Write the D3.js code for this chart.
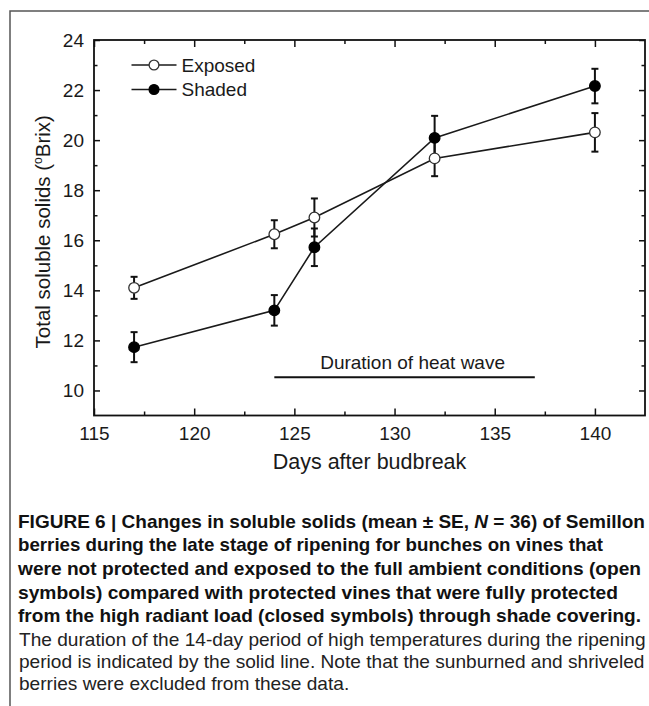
<!DOCTYPE html>
<html>
<head>
<meta charset="utf-8">
<script src="https://cdn.jsdelivr.net/npm/d3@7"></script>
<style>
  html, body { margin: 0; padding: 0; background: #fff; }
  svg { display: block; }
</style>
</head>
<body>
<svg id="fig" width="649" height="706"></svg>
<script>
// Sampling days (days after budbreak)
const days = [117, 124, 126, 132, 140];
// Total soluble solids (°Brix), mean and standard error
const exposedMean = [14.1, 16.24, 16.91, 19.27, 20.31];
const exposedSE   = [0.44, 0.56, 0.76, 0.71, 0.77];
const shadedMean  = [11.73, 13.2, 15.72, 20.09, 22.16];
const shadedSE    = [0.6, 0.61, 0.75, 0.88, 0.69];
// Heat wave period (start day, end day) and the level the bar is drawn at
const heatWaveDays = [124, 137];
const heatWaveLevel = [10.53];
// Axis ticks
const xTicks = [115, 120, 125, 130, 135, 140];
const xMinorTicks = [117.5, 122.5, 127.5, 132.5, 137.5];
const yTicks = [10, 12, 14, 16, 18, 20, 22, 24];
const yMinorTicks = [11, 13, 15, 17, 19, 21, 23];

const captionBold = [
  "FIGURE 6 | Changes in soluble solids (mean \u00B1 SE, N = 36) of Semillon",
  "berries during the late stage of ripening for bunches on vines that",
  "were not protected and exposed to the full ambient conditions (open",
  "symbols) compared with protected vines that were fully protected",
  "from the high radiant load (closed symbols) through shade covering."
];
const captionPlain = [
  "The duration of the 14-day period of high temperatures during the ripening",
  "period is indicated by the solid line. Note that the sunburned and shriveled",
  "berries were excluded from these data."
];

const svg = d3.select("#fig");
const FONT = '"Liberation Sans", Arial, Helvetica, sans-serif';

// Outer figure frame (top and left rules)
svg.append("path")
  .attr("d", "M10,706 V11 H649")
  .attr("fill", "none").attr("stroke", "#555").attr("stroke-width", 1.5);

const plot = { left: 94, right: 645, top: 40, bottom: 415.5 };
const x = d3.scaleLinear().domain([115, 142.5]).range([plot.left, plot.right]);
const y = d3.scaleLinear().domain([9, 24]).range([plot.bottom, plot.top]);

const g = svg.append("g");

function styleAxis(sel, size) {
  sel.select(".domain").remove();
  sel.selectAll(".tick line").attr("stroke", "#111").attr("stroke-width", 1.5);
  sel.selectAll(".tick text").attr("font-size", size).attr("font-family", FONT).attr("fill", "#1a1a1a");
}

// Bottom axis: major ticks with labels, minor ticks without
g.append("g").attr("transform", `translate(0,${plot.bottom})`)
  .call(d3.axisBottom(x).tickValues(xTicks).tickSize(-7).tickPadding(11).tickFormat(d3.format("d")))
  .call(s => styleAxis(s, 19));
g.append("g").attr("transform", `translate(0,${plot.bottom})`)
  .call(d3.axisBottom(x).tickValues(xMinorTicks).tickSize(-4).tickFormat(""))
  .call(s => styleAxis(s, 19));
// Top axis (ticks only)
g.append("g").attr("transform", `translate(0,${plot.top})`)
  .call(d3.axisTop(x).tickValues(xTicks).tickSize(-7).tickFormat(""))
  .call(s => styleAxis(s, 19));
g.append("g").attr("transform", `translate(0,${plot.top})`)
  .call(d3.axisTop(x).tickValues(xMinorTicks).tickSize(-4).tickFormat(""))
  .call(s => styleAxis(s, 19));
// Left axis
g.append("g").attr("transform", `translate(${plot.left},0)`)
  .call(d3.axisLeft(y).tickValues(yTicks).tickSize(-6).tickPadding(10).tickFormat(d3.format("d")))
  .call(s => styleAxis(s, 19));
g.append("g").attr("transform", `translate(${plot.left},0)`)
  .call(d3.axisLeft(y).tickValues(yMinorTicks).tickSize(-3.5).tickFormat(""))
  .call(s => styleAxis(s, 19));
// Right axis (ticks only)
g.append("g").attr("transform", `translate(${plot.right},0)`)
  .call(d3.axisRight(y).tickValues(yTicks).tickSize(-6).tickFormat(""))
  .call(s => styleAxis(s, 19));
g.append("g").attr("transform", `translate(${plot.right},0)`)
  .call(d3.axisRight(y).tickValues(yMinorTicks).tickSize(-3.5).tickFormat(""))
  .call(s => styleAxis(s, 19));

// Plot frame
g.append("rect")
  .attr("x", plot.left).attr("y", plot.top)
  .attr("width", plot.right - plot.left).attr("height", plot.bottom - plot.top)
  .attr("fill", "none").attr("stroke", "#111").attr("stroke-width", 1.8);

// Axis titles
g.append("text")
  .attr("x", (plot.left + plot.right) / 2).attr("y", 469)
  .attr("text-anchor", "middle").attr("font-family", FONT).attr("font-size", 21.5)
  .attr("fill", "#1a1a1a").text("Days after budbreak");

const yTitle = g.append("text")
  .attr("transform", `translate(50,${(plot.top + plot.bottom) / 2 + 4}) rotate(-90)`)
  .attr("text-anchor", "middle").attr("font-family", FONT).attr("font-size", 20.5)
  .attr("fill", "#1a1a1a");
yTitle.append("tspan").text("Total soluble solids (");
yTitle.append("tspan").attr("font-size", 12).attr("dy", -8).text("o");
yTitle.append("tspan").attr("dy", 8).text("Brix)");

// Heat wave duration bar and label
g.append("line")
  .attr("x1", x(heatWaveDays[0])).attr("x2", x(heatWaveDays[1]))
  .attr("y1", y(heatWaveLevel[0])).attr("y2", y(heatWaveLevel[0]))
  .attr("stroke", "#111").attr("stroke-width", 2);
g.append("text")
  .attr("x", x(130.9)).attr("y", y(heatWaveLevel[0]) - 8)
  .attr("text-anchor", "middle").attr("font-family", FONT).attr("font-size", 19)
  .attr("fill", "#1a1a1a").text("Duration of heat wave");

// Series
const series = [
  { name: "Exposed", mean: exposedMean, se: exposedSE, fill: "#fff", stroke: "#333" },
  { name: "Shaded",  mean: shadedMean,  se: shadedSE,  fill: "#000", stroke: "#000" }
];
const line = d3.line().x(d => x(d[0])).y(d => y(d[1]));

series.forEach(s => {
  const pts = days.map((d, i) => [d, s.mean[i], s.se[i]]);
  g.append("path").datum(pts).attr("d", line)
    .attr("fill", "none").attr("stroke", "#1a1a1a").attr("stroke-width", 1.6);
});

series.forEach(s => {
  const pts = days.map((d, i) => [d, s.mean[i], s.se[i]]);
  const eb = g.append("g");
  pts.forEach(p => {
    const cx = x(p[0]), hi = y(p[1] + p[2]), lo = y(p[1] - p[2]);
    eb.append("line").attr("x1", cx).attr("x2", cx).attr("y1", hi).attr("y2", lo)
      .attr("stroke", "#111").attr("stroke-width", 2);
    [hi, lo].forEach(yy => eb.append("line")
      .attr("x1", cx - 3.5).attr("x2", cx + 3.5).attr("y1", yy).attr("y2", yy)
      .attr("stroke", "#111").attr("stroke-width", 2));
  });
});

series.forEach(s => {
  g.append("g").selectAll("circle").data(days.map((d, i) => [d, s.mean[i]])).join("circle")
    .attr("cx", d => x(d[0])).attr("cy", d => y(d[1])).attr("r", 5.3)
    .attr("fill", s.fill).attr("stroke", s.stroke).attr("stroke-width", 1.3);
});

// Legend
const legendY = [65, 89.5];
series.forEach((s, i) => {
  const ly = legendY[i];
  g.append("line").attr("x1", 131.5).attr("x2", 176.5).attr("y1", ly).attr("y2", ly)
    .attr("stroke", "#1a1a1a").attr("stroke-width", 1.6);
  g.append("circle").attr("cx", 154).attr("cy", ly).attr("r", 4.9)
    .attr("fill", s.fill).attr("stroke", s.stroke).attr("stroke-width", 1.3);
  g.append("text").attr("x", 181.5).attr("y", ly).attr("dy", "0.36em")
    .attr("font-family", FONT).attr("font-size", 19).attr("fill", "#1a1a1a").text(s.name);
});

// Caption
const CAP_FONT = '"Liberation Sans Narrow", "Arial Narrow", "Liberation Sans", Arial, sans-serif';
const boldWidths = [627, 585, 623, 600, 623];
const boldY = [527.5, 551, 575, 598.5, 622];
captionBold.forEach((t, i) => {
  const el = svg.append("text").attr("x", 18).attr("y", boldY[i])
    .attr("font-family", CAP_FONT).attr("font-weight", "bold").attr("font-size", 19)
    .attr("fill", "#111").attr("textLength", boldWidths[i]).attr("lengthAdjust", "spacingAndGlyphs");
  if (i === 0) {
    el.append("tspan").text("FIGURE 6 | Changes in soluble solids (mean \u00B1 SE, ");
    el.append("tspan").attr("font-style", "italic").text("N");
    el.append("tspan").text(" = 36) of Semillon");
  } else {
    el.text(t);
  }
});
// Plain caption lines share one horizontal compression so glyphs stay uniform
const plainY = [646, 668, 690];
const plainLines = captionPlain.map((t, i) => svg.append("text")
  .attr("x", 0).attr("y", 0)
  .attr("transform", `translate(19,${plainY[i]})`)
  .attr("font-family", CAP_FONT).attr("font-size", 17.5)
  .attr("fill", "#222").text(t));
const fullWidth = plainLines[0].node().getComputedTextLength();
const sx = 627 / fullWidth;
plainLines.forEach((el, i) => el.attr("transform", `translate(19,${plainY[i]}) scale(${sx},1)`));
</script>
</body>
</html>
